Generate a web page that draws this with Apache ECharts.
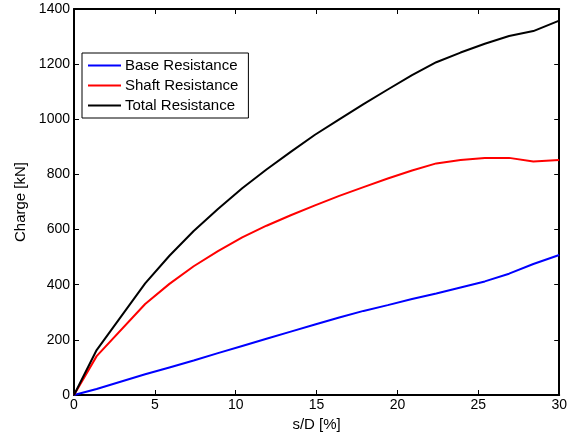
<!DOCTYPE html>
<html>
<head>
<meta charset="utf-8">
<script src="https://cdn.jsdelivr.net/npm/echarts@6/dist/echarts.min.js"></script>
<style>html,body{margin:0;padding:0;background:#fff}#c{width:570px;height:438px}</style>
</head>
<body>
<div id="c"></div>
<script>
const sD = [0, 1.4, 4.4, 5.9, 7.4, 8.9, 10.4, 11.9, 13.4, 14.9, 16.4, 17.9, 19.4, 20.9, 22.4, 23.9, 25.4, 26.9, 28.4, 30];
const baseRes = [0, 22, 75, 100, 125, 152, 178, 204, 230, 256, 281, 305, 326, 348, 368, 390, 412, 440, 475, 508];
const shaftRes = [0, 141, 330, 403, 467, 522, 572, 614, 652, 688, 722, 754, 785, 814, 840, 852, 860, 860, 847, 852];
const totalRes = [0, 163, 405, 505, 595, 675, 750, 818, 882, 944, 1000, 1055, 1108, 1160, 1207, 1242, 1274, 1302, 1320, 1358];
const seriesNames = ['Base Resistance', 'Shaft Resistance', 'Total Resistance'];
const seriesColors = ['#0000ff', '#ff0000', '#000000'];
const xTitle = 's/D [%]';
const yTitle = 'Charge [kN]';

const allData = [baseRes, shaftRes, totalRes];
const font = 'Liberation Sans, Arial, Helvetica, sans-serif';
const chart = echarts.init(document.getElementById('c'), null, {renderer: 'canvas'});
const axisLineStyle = {color: '#000', width: 2};
const tickStyle = {color: '#000', width: 1};
const plain = v => String(v);
chart.setOption({
  animation: false,
  backgroundColor: '#fff',
  grid: {left: 74, right: 7, top: 9, bottom: 43},
  legend: {
    orient: 'vertical', left: 82, top: 53,
    data: seriesNames,
    icon: 'rect', itemWidth: 33, itemHeight: 2, itemGap: 5,
    borderColor: '#000', borderWidth: 1, backgroundColor: '#fff',
    padding: [5, 10, 5, 6],
    textStyle: {fontFamily: font, fontSize: 15, color: '#000', lineHeight: 15, padding: [0, 0, 0, -1]}
  },
  xAxis: [{
    type: 'value', min: 0, max: 30, interval: 5,
    name: xTitle, nameLocation: 'middle', nameGap: 21,
    nameTextStyle: {fontFamily: font, fontSize: 15, color: '#000'},
    axisLine: {show: true, onZero: false, lineStyle: axisLineStyle},
    axisTick: {show: true, inside: true, length: 5, lineStyle: tickStyle},
    axisLabel: {fontFamily: font, fontSize: 14, color: '#000', margin: 3, formatter: plain},
    splitLine: {show: false}
  }, {
    type: 'value', min: 0, max: 30, interval: 5, position: 'top',
    axisLine: {show: true, onZero: false, lineStyle: axisLineStyle},
    axisTick: {show: true, inside: true, length: 5, lineStyle: tickStyle},
    axisLabel: {show: false}, splitLine: {show: false}
  }],
  yAxis: [{
    type: 'value', min: 0, max: 1400, interval: 200,
    name: yTitle, nameLocation: 'middle', nameGap: 43,
    nameTextStyle: {fontFamily: font, fontSize: 15, color: '#000'},
    axisLine: {show: true, onZero: false, lineStyle: axisLineStyle},
    axisTick: {show: true, inside: true, length: 5, lineStyle: tickStyle},
    axisLabel: {fontFamily: font, fontSize: 14, color: '#000', margin: 4, formatter: plain},
    splitLine: {show: false}
  }, {
    type: 'value', min: 0, max: 1400, interval: 200, position: 'right',
    axisLine: {show: true, onZero: false, lineStyle: axisLineStyle},
    axisTick: {show: true, inside: true, length: 5, lineStyle: tickStyle},
    axisLabel: {show: false}, splitLine: {show: false}
  }],
  series: seriesNames.map((n, i) => ({
    name: n, type: 'line', xAxisIndex: 0, yAxisIndex: 0,
    data: sD.map((x, k) => [x, allData[i][k]]),
    symbol: 'none', color: seriesColors[i],
    lineStyle: {color: seriesColors[i], width: 2},
    z: 3 + i
  }))
});
</script>
</body>
</html>
